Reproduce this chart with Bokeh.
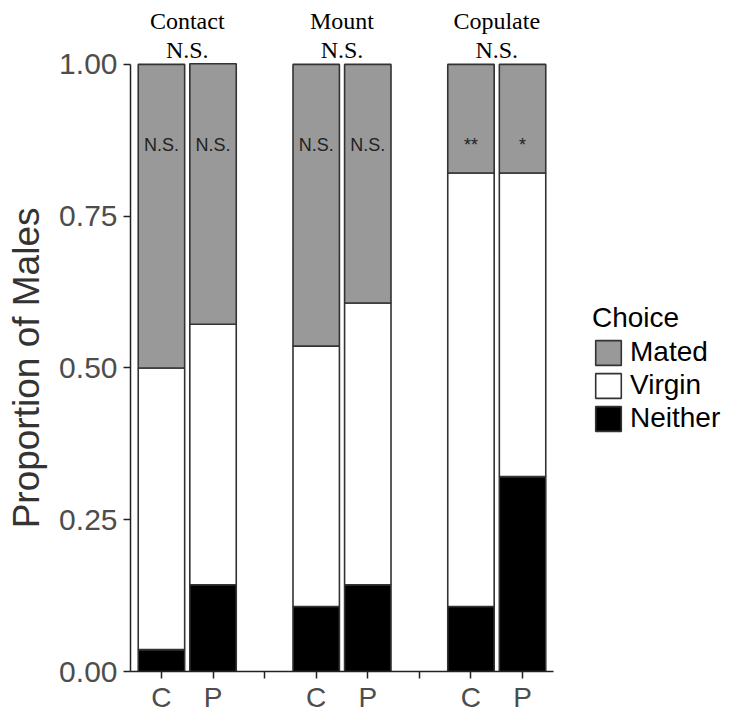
import math
from bokeh.plotting import figure
from bokeh.layouts import row
from bokeh.models import (Range1d, FixedTicker, Legend, LegendItem,
                          ColumnDataSource, CustomJSTickFormatter,
                          NumeralTickFormatter)
from bokeh.core.properties import value
from bokeh.embed import file_html
from bokeh.resources import INLINE

# ---- data (proportion of males per choice) ----
groups = ["Contact", "Mount", "Copulate"]
group_sig = ["N.S.", "N.S.", "N.S."]
treatments = ["C", "P"]
neither = [0.036, 0.143, 0.107, 0.143, 0.107, 0.321]
virgin = [0.464, 0.429, 0.429, 0.464, 0.714, 0.500]
mated = [0.500, 0.429, 0.464, 0.393, 0.179, 0.179]
bar_sig = ["N.S.", "N.S.", "N.S.", "N.S.", "**", "*"]
choice_labels = ["Mated", "Virgin", "Neither"]
y_ticks = [0.0, 0.25, 0.5, 0.75, 1.0]
y_title = "Proportion of Males"

# ---- layout: two bars per group, one empty slot between groups ----
slot = len(treatments) + 1
xs, tick_pos, tick_lab = [], [], []
for gi, g in enumerate(groups):
    for ti, t in enumerate(treatments):
        x = gi * slot + ti + 1
        xs.append(x)
        tick_pos.append(x)
        tick_lab.append(t)
    if gi < len(groups) - 1:
        tick_pos.append(gi * slot + len(treatments) + 1)
        tick_lab.append("")

W, H = 736, 715
TITLE_W = 48                      # strip holding the y-axis title
LEFT = 130                        # page x of the y axis line
BOTTOM = 43                       # px below the panel (x axis)
TOP_PX = 64                       # px above y = 1 for group labels
X0, X1 = 0.4, xs[-1] + 0.6        # bar area extent
PX_PER_X = 423 / (X1 - X0)
FRAME_W = W - LEFT
FRAME_H = H - BOTTOM
PX_PER_Y = FRAME_H - TOP_PX       # px for y in [0, 1]

y_range = Range1d(0, 1 + TOP_PX / PX_PER_Y)

src = ColumnDataSource(dict(x=xs, neither=neither, virgin=virgin, mated=mated,
                            sig=bar_sig, sy=[0.868] * len(xs)))
gx = [gi * slot + (len(treatments) + 1) / 2 for gi in range(len(groups))]
hdr = ColumnDataSource(dict(x=gx, name=groups, sig=group_sig,
                            yn=[1 + 43 / PX_PER_Y] * len(groups),
                            ys=[1 + 14 / PX_PER_Y] * len(groups)))

FONT = "Liberation Sans"

# ---- strip with the y-axis title (centred on y = 0.5) ----
t = figure(width=TITLE_W, height=H, x_range=Range1d(0, TITLE_W),
           y_range=y_range, output_backend="svg", toolbar_location=None,
           x_axis_location=None, y_axis_location=None,
           min_border_left=0, min_border_right=0, min_border_top=0,
           min_border_bottom=BOTTOM)
t.outline_line_color = None
t.grid.visible = False
t.text(x=[26], y=[0.5], text=[y_title], angle=math.pi / 2,
       text_align="center", text_baseline="middle", text_font=value(FONT),
       text_font_size="37px", text_color="#333333")

# ---- main panel ----
p = figure(width=W - TITLE_W, height=H,
           x_range=Range1d(X0, X0 + FRAME_W / PX_PER_X), y_range=y_range,
           output_backend="svg", toolbar_location=None,
           min_border_left=LEFT - TITLE_W, min_border_right=0,
           min_border_top=0, min_border_bottom=BOTTOM)
p.outline_line_color = None
p.grid.visible = False
p.background_fill_color = "white"

rs = p.vbar_stack(["neither", "virgin", "mated"], x="x", width=0.9,
                  color=["#000000", "#ffffff", "#999999"],
                  line_color="#333333", line_width=1.6, source=src)

p.text(x="x", y="sy", text="sig", source=src, text_align="center",
       text_baseline="middle", text_font=value(FONT), text_font_size="18px",
       text_color="#222222")

for col, ycol in (("name", "yn"), ("sig", "ys")):
    p.text(x="x", y=ycol, text=col, source=hdr, text_align="center",
           text_baseline="middle", text_font=value("Liberation Serif"),
           text_font_size="24px", text_color="#000000")

for ax in (p.xaxis[0], p.yaxis[0]):
    ax.axis_line_color = "#222222"
    ax.axis_line_width = 1.5
    ax.major_tick_line_color = "#222222"
    ax.major_tick_line_width = 1.5
    ax.major_tick_out = 7
    ax.major_tick_in = 0
    ax.minor_tick_line_color = None
    ax.major_label_text_font = FONT
    ax.major_label_text_color = "#4d4d4d"

p.xaxis.bounds = (X0, X1)
p.xaxis.ticker = FixedTicker(ticks=tick_pos)
p.xaxis.formatter = CustomJSTickFormatter(
    args=dict(pos=tick_pos, lab=tick_lab),
    code="const i = pos.indexOf(tick); return i >= 0 ? lab[i] : '';")
p.xaxis.major_label_standoff = 3
p.xaxis.major_label_text_font_size = "28px"

p.yaxis.bounds = (0, 1)
p.yaxis.ticker = FixedTicker(ticks=y_ticks)
p.yaxis.formatter = NumeralTickFormatter(format="0.00")
p.yaxis.major_label_text_font_size = "30px"
p.yaxis.major_label_standoff = 6

order = [rs[2], rs[1], rs[0]]
legend = Legend(items=[LegendItem(label=l, renderers=[r])
                       for l, r in zip(choice_labels, order)],
                location=(462, 237), title="Choice",
                title_text_font=FONT, title_text_font_size="28px",
                title_text_font_style="normal", title_text_color="#000000",
                title_standoff=2,
                label_text_font=FONT, label_text_font_size="28px",
                label_text_color="#000000",
                glyph_width=32, glyph_height=31, label_height=31,
                label_standoff=6, spacing=1, padding=0, margin=0,
                background_fill_alpha=0, border_line_alpha=0)
p.add_layout(legend, "center")

open("out.html", "w").write(file_html(row(t, p), INLINE))
